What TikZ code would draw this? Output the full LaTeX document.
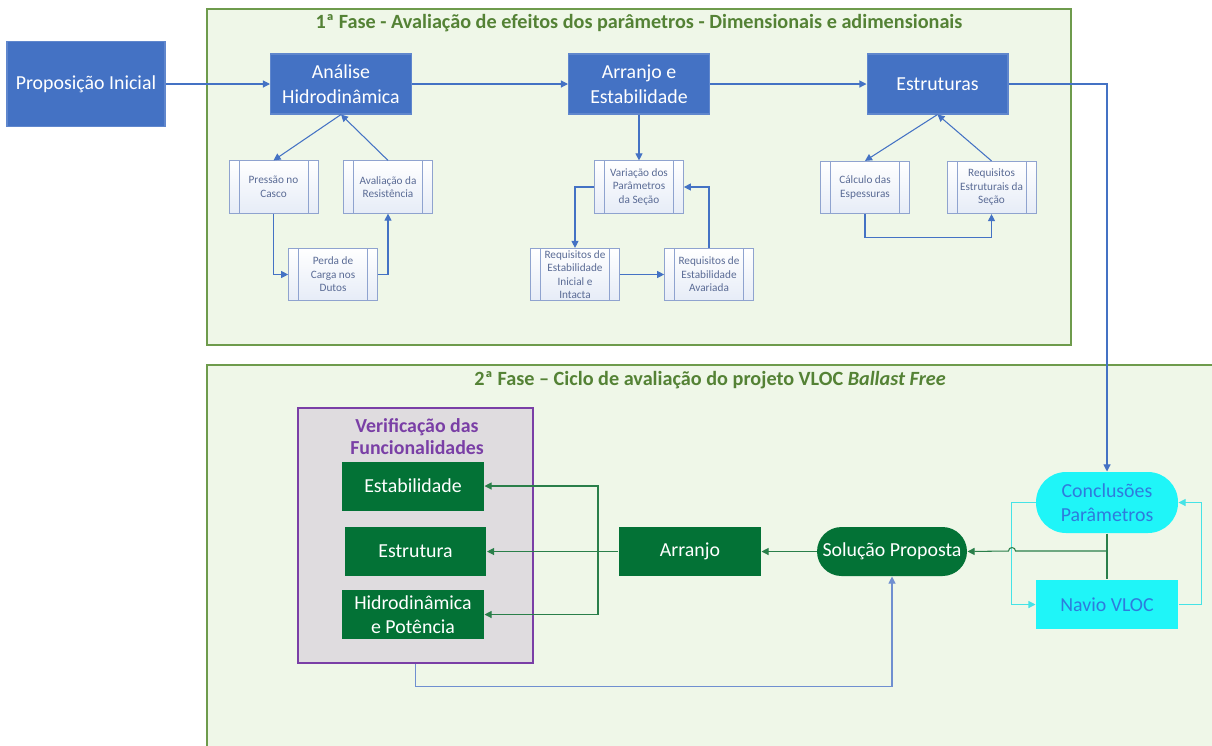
\documentclass[tikz,border=0pt]{standalone}
\usepackage{fontspec}
\setmainfont{Carlito}
\usepackage{tikz}
\usetikzlibrary{arrows.meta,positioning}

\definecolor{boxblue}{HTML}{4472C4}
\definecolor{subedge}{HTML}{8FA3CF}
\definecolor{subfill}{HTML}{E6ECF7}
\definecolor{subtext}{HTML}{5A6B95}
\definecolor{phasefill}{HTML}{EFF7E8}
\definecolor{phaseedge}{HTML}{6E9B4C}
\definecolor{titlegreen}{HTML}{548235}
\definecolor{boxgreen}{HTML}{037236}
\definecolor{linegreen}{HTML}{2A7F4A}
\definecolor{verifedge}{HTML}{7A3FA6}
\definecolor{veriffill}{HTML}{DFDCDF}
\definecolor{cyanfill}{HTML}{1FF5F8}
\definecolor{cyanline}{HTML}{45E3E6}
\definecolor{cyantext}{HTML}{2E7BDD}
\definecolor{backblue}{HTML}{6F8FD0}

\begin{document}
\begin{tikzpicture}[
    x = 0.02cm, y = -0.02cm, % one unit = one pixel of the figure
    > = {Triangle[length=4pt,width=4pt]}, % arrow head style
    semithick, % line style
    font = \fontsize{11.3}{14}\selectfont
    ]

    \tikzset{
    mainbox/.style = {rectangle, fill = boxblue, draw = boxblue!85!white, text = white,
        align = center, inner sep = 0pt, minimum width = 2.82cm, minimum height = 1.2cm},
    subbox/.style = {rectangle, draw = subedge, thin, top color = white, bottom color = subfill,
        text = subtext, align = center, inner sep = 0pt,
        minimum width = 1.78cm, minimum height = 1.05cm,
        font = \fontsize{6.4}{7.7}\selectfont,
        path picture = {
            \draw[subedge, thin] ([xshift=0.2cm]path picture bounding box.north west)
                -- ([xshift=0.2cm]path picture bounding box.south west);
            \draw[subedge, thin] ([xshift=-0.2cm]path picture bounding box.north east)
                -- ([xshift=-0.2cm]path picture bounding box.south east);
        }},
    greenbox/.style = {rectangle, fill = boxgreen, text = white, align = center,
        inner sep = 0pt, minimum width = 2.84cm, minimum height = 0.98cm},
    cyanbox/.style = {rectangle, fill = cyanfill, text = cyantext, align = center,
        inner sep = 0pt, minimum width = 2.84cm},
    phase/.style = {draw = phaseedge, fill = phasefill, line width = 1pt},
    phasetitle/.style = {text = titlegreen, font = \fontsize{11.5}{14}\selectfont\bfseries},
    bl/.style = {color = boxblue},
    gl/.style = {color = linegreen},
    cl/.style = {color = cyanline}
    }

    \useasboundingbox (0,0) rectangle (1212,745);

    % phases
    \draw[phase] (207,9) rectangle (1071,345);
    \draw[phase] (207,365) rectangle (1220,755);
    \node[phasetitle] (t1) at (639,23) {1ª Fase - Avaliação de efeitos dos parâmetros - Dimensionais e adimensionais};
    \node[phasetitle] (t2) at (710,380) {2ª Fase – Ciclo de avaliação do projeto VLOC \textit{Ballast Free}};

    % 1st phase
    \node[mainbox, minimum width = 3.16cm, minimum height = 1.7cm] (prop) at (86,84) {Proposição Inicial};
    \node[mainbox] (hidro) at (341,84) {Análise\\Hidrodinâmica};
    \node[mainbox] (arrest) at (639,84) {Arranjo e\\Estabilidade};
    \node[mainbox] (estrut) at (937.5,84) {Estruturas};

    \node[subbox] (pressao) at (273.5,187) {Pressão no\\Casco};
    \node[subbox] (avalres) at (388,187) {Avaliação da\\Resistência};
    \node[subbox] (perda) at (333,274.5) {Perda de\\Carga nos\\Dutos};
    \node[subbox] (variacao) at (639,187) {Variação dos\\Parâmetros\\da Seção};
    \node[subbox] (reqini) at (575,274.5) {Requisitos de\\Estabilidade\\Inicial e\\Intacta};
    \node[subbox] (reqava) at (709,274.5) {Requisitos de\\Estabilidade\\Avariada};
    \node[subbox] (calculo) at (865,187.5) {Cálculo das\\Espessuras};
    \node[subbox] (reqest) at (991.5,187.5) {Requisitos\\Estruturais da\\Seção};

    \path[bl,->] (prop) edge (hidro);
    \path[bl,->] (hidro) edge (arrest);
    \path[bl,->] (arrest) edge (estrut);
    \path[bl,->] (hidro.south) edge (pressao.north);
    \path[bl,->] (avalres.north) edge (hidro.south);
    \draw[bl,->] (pressao.south) |- (perda.west);
    \draw[bl,->] (perda.east) -| (avalres.south);
    \path[bl,->] (arrest.south) edge (variacao.north);
    \draw[bl,->] (variacao.west) -| (reqini.north);
    \path[bl,->] (reqini) edge (reqava);
    \draw[bl,->] (reqava.north) |- (variacao.east);
    \path[bl,->] (estrut.south) edge (calculo.north);
    \path[bl,->] (reqest.north) edge (estrut.south);
    \draw[bl,->] (calculo.south) -- ++(0,23) -| (reqest.south);

    % 2nd phase
    \node[draw = verifedge, fill = veriffill, line width = 1pt,
        minimum width = 4.7cm, minimum height = 5.1cm] (verif) at (415.5,535.5) {};
    \node[text = verifedge, align = center, font = \fontsize{11.3}{13}\selectfont\bfseries]
        (vtitle) at (417,436.5) {Verificação das\\Funcionalidades};
    \node[greenbox] (estab) at (413,486) {Estabilidade};
    \node[greenbox] (estrutura) at (415.5,551.5) {Estrutura};
    \node[greenbox] (hidpot) at (413,614.5) {Hidrodinâmica\\e Potência};
    \node[greenbox] (arranjo) at (690,551.5) {Arranjo};
    \node[greenbox, minimum width = 3cm, rounded corners = 0.49cm] (solucao) at (892,551.5) {Solução Proposta};
    \node[cyanbox, minimum height = 1.22cm, rounded corners = 0.6cm] (conc) at (1107,502.5) {Conclusões\\Parâmetros};
    \node[cyanbox, minimum height = 0.98cm] (navio) at (1107,604.5) {Navio VLOC};

    \draw[bl,->] (estrut.east) -| (conc.north);

    \draw[cl,->] (conc.west) -- ++(-24,0) |- (navio.west);
    \draw[cl,->] (navio.east) -- ++(23,0) |- (conc.east);

    \coordinate (jn) at (1107,551);
    \coordinate (hop) at (1012,551);
    \draw[gl] (conc) -- (navio);
    \draw[gl,->] (jn) -- ([xshift=0.07cm]hop) arc[start angle=0, end angle=180, radius=0.07cm] -- (solucao.east);
    \path[gl,->] (solucao) edge (arranjo);
    \path[gl,->] (arranjo) edge (estrutura);

    \coordinate (br) at (598,551);
    \draw[gl,->] (br) |- (estab.east);
    \draw[gl,->] (br) |- (hidpot.east);

    \draw[backblue,->] (verif.south) -- ++(0,23) -| (solucao.south);
\end{tikzpicture}
\end{document}
